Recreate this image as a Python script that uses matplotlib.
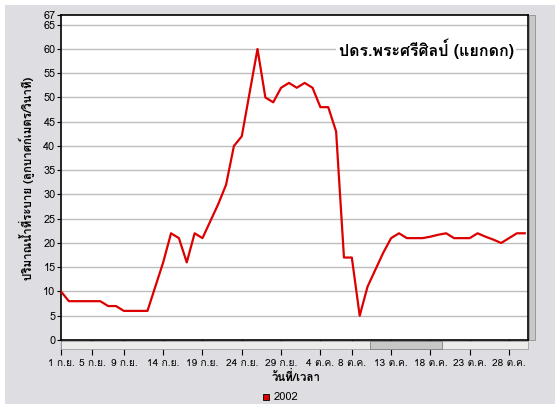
import matplotlib
matplotlib.use("Agg")
import matplotlib.pyplot as plt
from matplotlib import font_manager
from matplotlib.patches import Rectangle
from matplotlib.ft2font import FT2Font

# ---- data (daily values, 1 Sep .. 30 Oct 2002) ----
values_2002 = [10, 8, 8, 8, 8, 8, 7, 7, 6, 6,
               6, 6, 11, 16, 22, 21, 16, 22, 21, 24.5,
               28, 32, 40, 42, 51, 60, 50, 49, 52, 53,
               52, 53, 52, 48, 48, 43, 17, 17, 5, 11,
               14.5, 18, 21, 22, 21, 21, 21, 21.3, 21.7, 22,
               21, 21, 21, 22, 21.3, 20.7, 20, 21, 22, 22]
tick_days = [0, 4, 8, 13, 18, 23, 28, 33, 37, 42, 47, 52, 57]
tick_labels = ["1 ก.ย.", "5 ก.ย.", "9 ก.ย.", "14 ก.ย.", "19 ก.ย.", "24 ก.ย.",
               "29 ก.ย.", "4 ต.ค.", "8 ต.ค.", "13 ต.ค.", "18 ต.ค.", "23 ต.ค.", "28 ต.ค."]
y_ticks = [0, 5, 10, 15, 20, 25, 30, 35, 40, 45, 50, 55, 60, 65, 67]
series_name = "2002"
title_text = "ปดร.พระศรีศิลป์ (แยกดก)"
x_label = "วันที่/เวลา"
y_label = "ปริมาณน้ำที่ระบาย (ลูกบาศก์เมตร/วินาที)"

# ---- find a font with Thai glyphs ----
thai_font = None
for fe in font_manager.fontManager.ttflist:
    try:
        if 0x0E01 in FT2Font(fe.fname).get_charmap():
            thai_font = fe.name
            break
    except Exception:
        pass
families = ([thai_font] if thai_font else []) + ["DejaVu Sans"]
plt.rcParams["font.family"] = families

W, H = 559, 408
fig = plt.figure(figsize=(W / 100, H / 100), dpi=100, facecolor="white")

def fx(px):
    return px / W

def fy(py):
    return 1 - py / H

# gray panel background
fig.patches.append(Rectangle((fx(5), fy(404)), fx(550), 399 / H, transform=fig.transFigure,
                             facecolor="#dedde2", edgecolor="none", zorder=-5))

left, right, top, bottom = 61, 527.5, 15, 340
ax = fig.add_axes([fx(left), fy(bottom), fx(right - left), (bottom - top) / H])
ax.set_facecolor("white")

days = list(range(len(values_2002)))
ax.plot(days, values_2002, color="#dd0000", lw=1.6, zorder=3)

ax.set_xlim(0, 59.35)
ax.set_ylim(0, 67)
ax.set_yticks(y_ticks)
ax.set_yticklabels([str(v) for v in y_ticks], fontsize=7.8)
ax.set_xticks(tick_days)
ax.set_xticklabels(tick_labels, fontsize=7.3)
ax.tick_params(axis="y", length=3, pad=1, color="black")
ax.tick_params(axis="x", length=11, pad=3, color="black")
for v in y_ticks:
    if 0 < v < 67:
        ax.axhline(v, color="#bdbdbd", lw=1, zorder=1)
for s in ax.spines.values():
    s.set_color("black")
    s.set_linewidth(1.2)

ax.text(0.97, 60, title_text, transform=ax.get_yaxis_transform(), ha="right", va="center",
        fontsize=11.5, fontweight="bold", zorder=4,
        bbox=dict(facecolor="white", edgecolor="none", pad=2))

fig.text(fx(27), fy(178), y_label, rotation=90, ha="center", va="center",
         fontsize=8.3, fontweight="bold")
fig.text(fx(296), fy(376), x_label, ha="center", va="center", fontsize=8.3, fontweight="bold")

# legend
fig.patches.append(Rectangle((fx(263), fy(400)), fx(6), 6 / H, transform=fig.transFigure,
                             facecolor="#dd0000", edgecolor="black", lw=0.6, zorder=5))
fig.text(fx(274), fy(396.5), series_name, ha="left", va="center", fontsize=8)

# scrollbars (decorative)
fig.patches.append(Rectangle((fx(61), fy(349)), fx(467), 8 / H, transform=fig.transFigure,
                             facecolor="#ececec", edgecolor="#a0a0a0", lw=0.6, zorder=5))
fig.patches.append(Rectangle((fx(370), fy(349)), fx(72), 8 / H, transform=fig.transFigure,
                             facecolor="#c8c8c8", edgecolor="#808080", lw=0.6, zorder=6))
fig.patches.append(Rectangle((fx(529), fy(340)), fx(6), 325 / H, transform=fig.transFigure,
                             facecolor="#c8c8c8", edgecolor="#909090", lw=0.6, zorder=5))

fig.savefig("out.png", dpi=100, facecolor="white")
